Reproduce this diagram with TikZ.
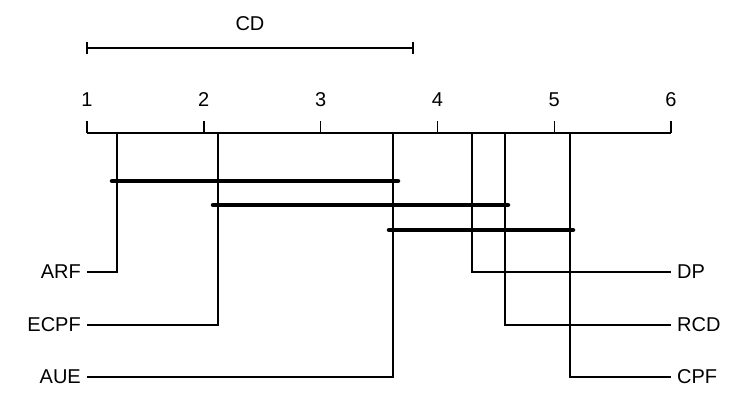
\documentclass[tikz,border=0pt]{standalone}
\usepackage{fontspec}
\setmainfont{Liberation Sans}
\usetikzlibrary{positioning}
\tikzset{
  thin line/.style={line width=1.4pt},
  clique/.style={line width=4.5pt, line cap=round},
  lbl/.style={font=\fontsize{20}{24}\selectfont, inner sep=2pt}
}
\begin{document}
\begin{tikzpicture}[x=1pt,y=-1pt]
	\useasboundingbox (0,0) rectangle (747,416);
	% CD bar
	\coordinate (cda) at (87,48);
	\coordinate (cdb) at (413,48);
	\draw[thin line] (cda) -- (cdb);
	\draw[thin line] (87,42) -- (87,54);
	\draw[thin line] (413,42) -- (413,54);
	\node[lbl] (cd) at (250,24) {CD};
	% axis
	\coordinate (ax1) at (87,133);
	\coordinate (ax6) at (671,133);
	\draw[thin line] (ax1) -- (ax6);
	\foreach \i in {1,...,6}{
		\draw[thin line] ({87+116.8*(\i-1)},121) -- ({87+116.8*(\i-1)},133);
		\node[lbl] (t\i) at ({87+116.8*(\i-1)},100) {\i};
	}
	% methods on the left
	\foreach \x/\y/\name in {117/272/ARF,218/325/ECPF,393/377/AUE}{
		\coordinate (top\name) at (\x,133);
		\coordinate (bend\name) at (\x,\y);
		\coordinate (end\name) at (87,\y);
		\draw[thin line] (top\name) -- (bend\name) -- (end\name);
		\node[lbl, left=4pt of end\name] (l\name) {\name};
	}
	% methods on the right
	\foreach \x/\y/\name in {472/272/DP,505/325/RCD,570/377/CPF}{
		\coordinate (top\name) at (\x,133);
		\coordinate (bend\name) at (\x,\y);
		\coordinate (end\name) at (671,\y);
		\draw[thin line] (top\name) -- (bend\name) -- (end\name);
		\node[lbl, right=4pt of end\name] (l\name) {\name};
	}
	% cliques
	\draw[clique] (112,181) -- (398,181);
	\draw[clique] (213,205) -- (508,205);
	\draw[clique] (389,230) -- (573,230);
\end{tikzpicture}
\end{document}
